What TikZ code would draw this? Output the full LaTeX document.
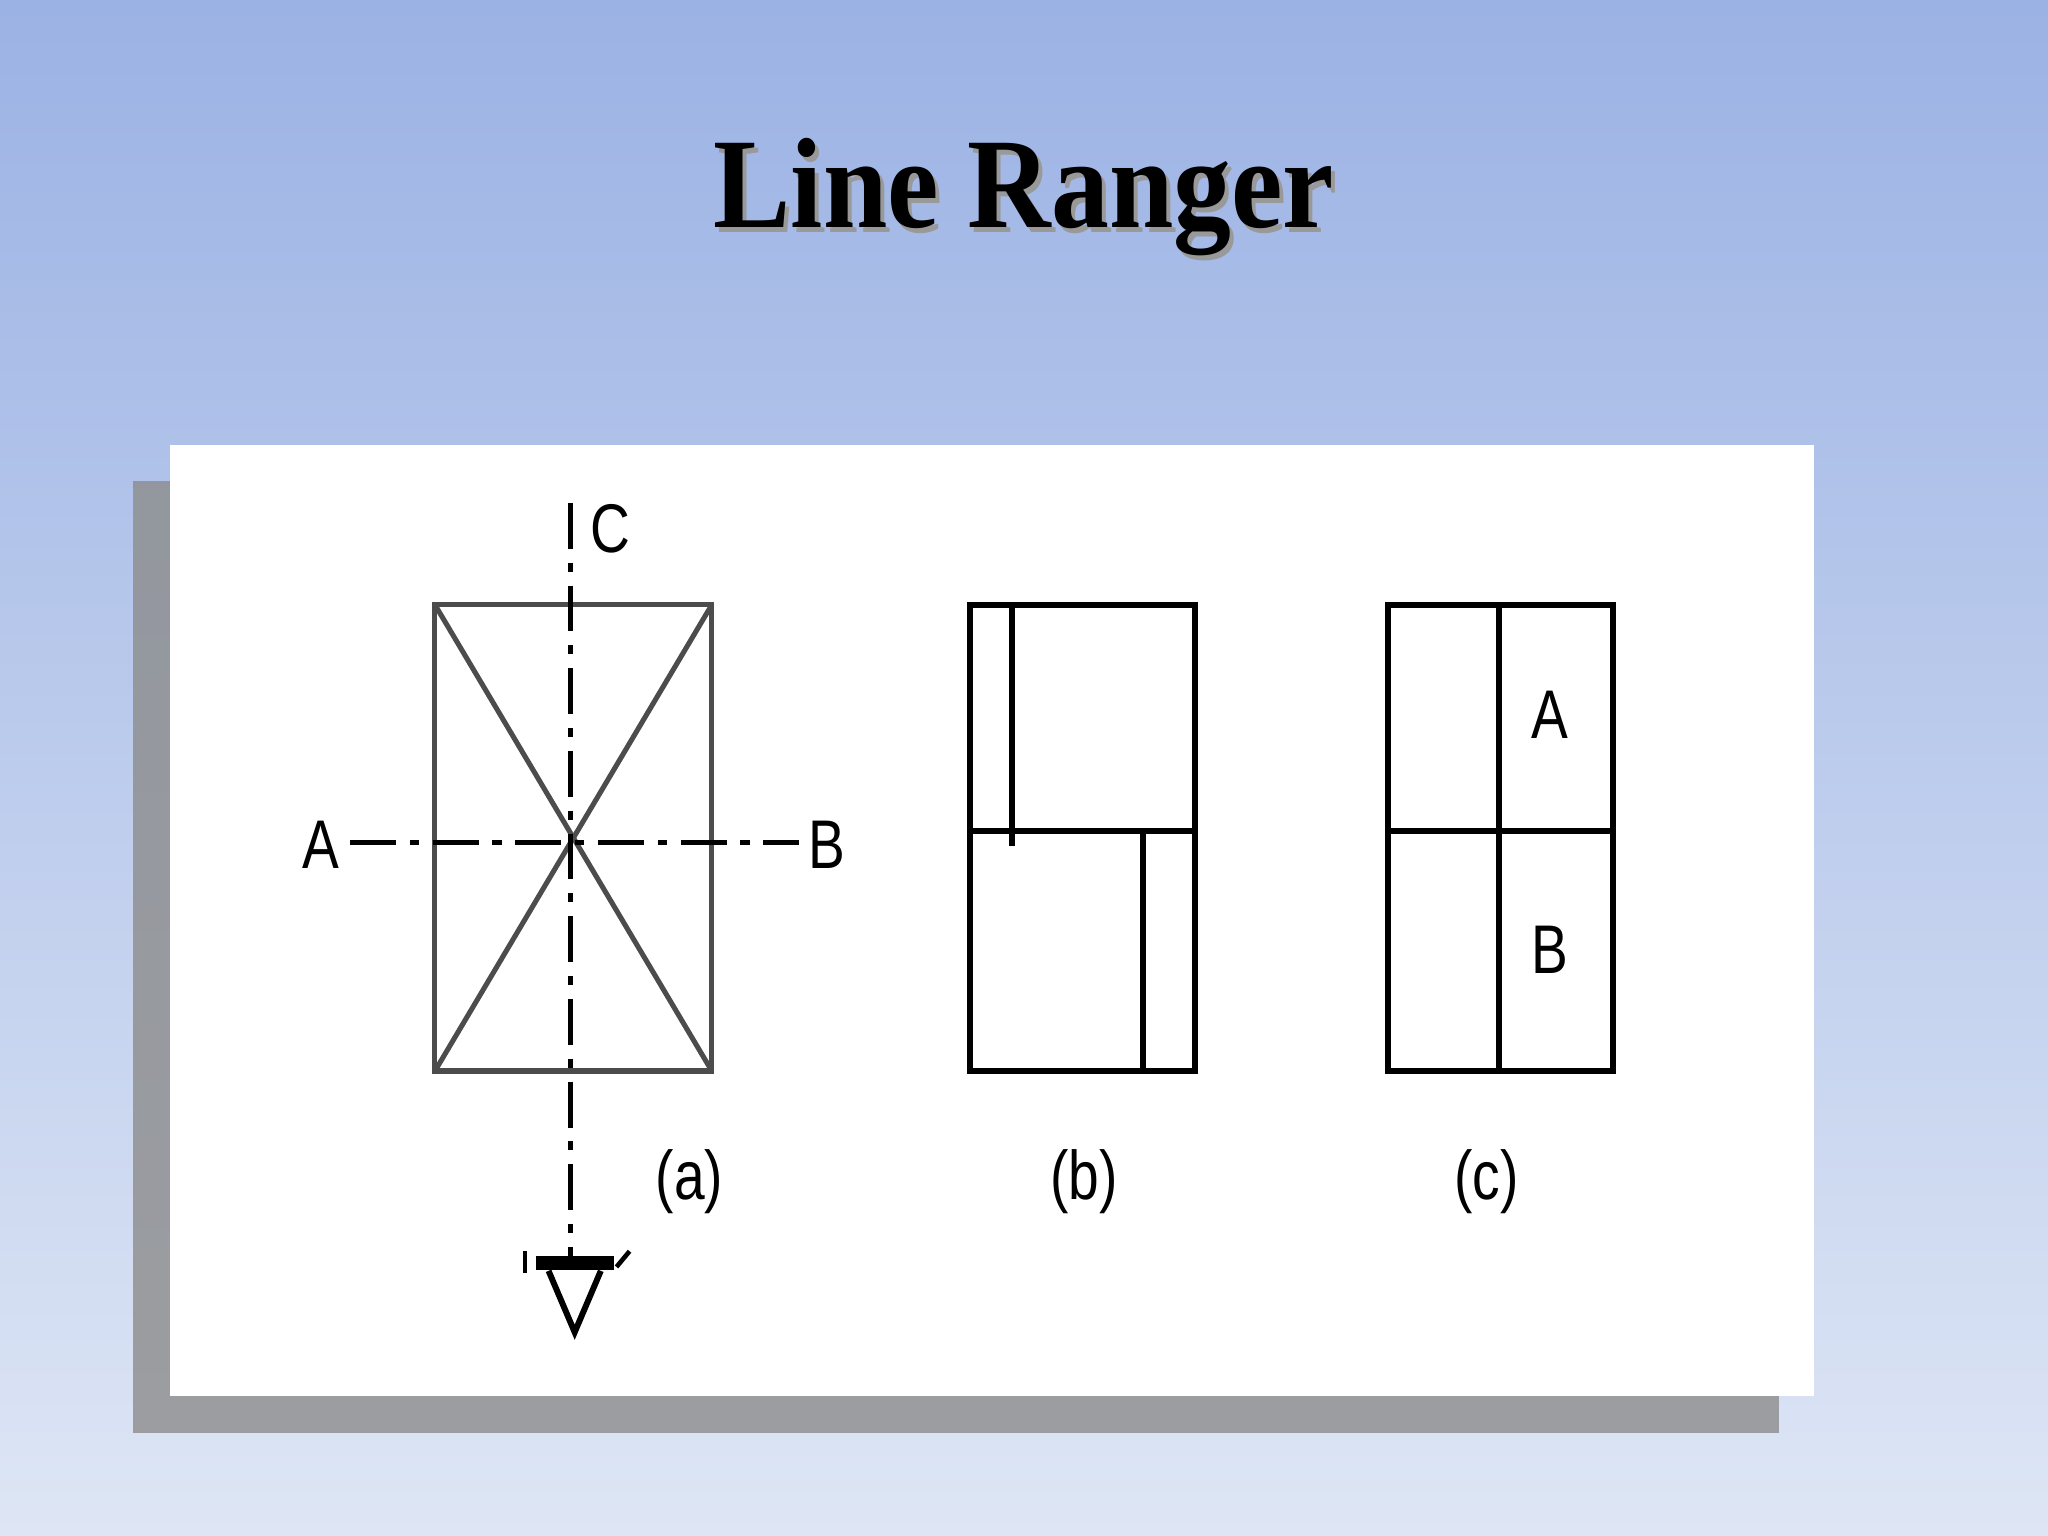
\documentclass[tikz,border=0pt]{standalone}
\usepackage{fontspec}
\setmainfont{Liberation Serif}
\setsansfont{Liberation Sans}
\begin{document}
\begin{tikzpicture}[x=0.01cm,y=-0.01cm,
  lbl/.style={font=\sffamily\fontsize{15}{15}\selectfont,inner sep=0pt,xscale=0.8},
  thk/.style={line width=1.3pt,black},
  gr/.style={line width=1.1pt,black!70},
  ttl/.style={font=\bfseries\fontsize{28}{28}\selectfont,xscale=0.9},
  dd/.style={line width=1.1pt,black,dash pattern=on 10pt off 3pt on 2pt off 3pt}]
\useasboundingbox (0,0) rectangle (1568,1176);
\shade[top color={rgb,255:red,155;green,178;blue,228},bottom color={rgb,255:red,222;green,230;blue,245}] (0,0) rectangle (1568,1176);
\fill[black!45,opacity=0.8] (102,368) rectangle (1362,1097);
\fill[white] (130,341) rectangle (1389,1069);
\node[ttl,text=black!40] at (787,155) {Line Ranger};
\node (title) [ttl] at (784,151) {Line Ranger};
% (a)
\draw[gr] (333,463) rectangle (545,820);
\draw[gr] (333,463) -- (545,820);
\draw[gr] (545,463) -- (333,820);
\draw[dd] (437,385) -- (437,962);
\draw[dd] (268,645) -- (612,645);
\node (C) [lbl] at (467,405) {C};
\node (A) [lbl] at (246,647) {A};
\node (B) [lbl] at (633,647) {B};
\node (la) [lbl] at (528,905) {(a)};
\draw[line width=3pt] (410,967) -- (470,967);
\draw[line width=1.3pt] (420,973) -- (440,1020) -- (460,973);
\draw[line width=1pt] (402,958) -- (402,975);
\draw[line width=1pt] (472,970) -- (482,958);
% (b)
\draw[thk] (743,463) rectangle (915,820);
\draw[thk] (743,636) -- (915,636);
\draw[thk] (775,463) -- (775,648);
\draw[thk] (875,636) -- (875,820);
\node (lb) [lbl] at (830,905) {(b)};
% (c)
\draw[thk] (1063,463) rectangle (1235,820);
\draw[thk] (1063,636) -- (1235,636);
\draw[thk] (1148,463) -- (1148,820);
\node (cA) [lbl] at (1187,547) {A};
\node (cB) [lbl] at (1187,727) {B};
\node (lc) [lbl] at (1138,905) {(c)};
\end{tikzpicture}
\end{document}
